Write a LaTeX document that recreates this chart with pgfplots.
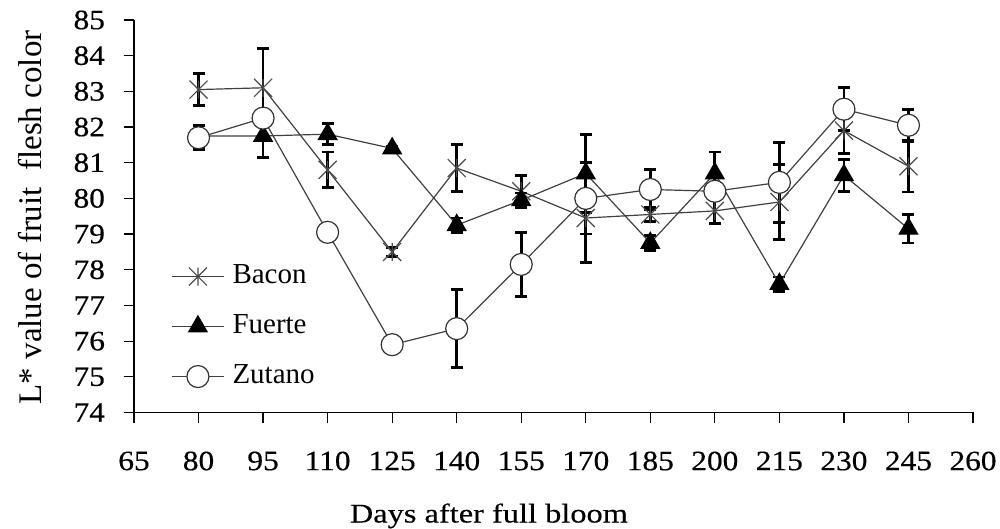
\documentclass[border=0pt]{standalone}
\usepackage{fontspec}
\setmainfont{Liberation Serif}
\newfontfamily\widefont[FakeStretch=1.12, FakeBold=0.4]{Liberation Serif}
\newfontfamily\xlabfont[FakeStretch=1.2, FakeBold=0.3]{Liberation Serif}
\usepackage{pgfplots}
\pgfplotsset{compat=1.18}
\usepackage{pgfplotstable}

% Excel-like star: an X with a vertical stroke
\pgfdeclareplotmark{xstar}{%
  \pgfpathmoveto{\pgfqpoint{-\pgfplotmarksize}{-\pgfplotmarksize}}%
  \pgfpathlineto{\pgfqpoint{\pgfplotmarksize}{\pgfplotmarksize}}%
  \pgfpathmoveto{\pgfqpoint{-\pgfplotmarksize}{\pgfplotmarksize}}%
  \pgfpathlineto{\pgfqpoint{\pgfplotmarksize}{-\pgfplotmarksize}}%
  \pgfpathmoveto{\pgfqpoint{0pt}{-\pgfplotmarksize}}%
  \pgfpathlineto{\pgfqpoint{0pt}{\pgfplotmarksize}}%
  \pgfusepathqstroke}

\pgfplotstableread{
day  B     eB    F     eF    Z     eZ
80   83.05 0.45  81.75 0.30  81.70 0.33
95   83.10 1.10  81.75 0.60  82.25 0.20
110  80.80 0.50  81.80 0.30  79.05 0.10
125  78.50 0.12  81.40 0.05  75.90 0.05
140  80.85 0.65  79.25 0.20  76.35 1.10
155  80.20 0.45  79.95 0.20  78.15 0.90
170  79.45 1.25  80.70 1.10  80.00 1.00
185  79.55 0.20  78.75 0.20  80.25 0.55
200  79.65 0.35  80.70 0.60  80.20 0.20
215  79.90 1.05  77.60 0.20  80.45 1.12
230  81.90 0.65  80.65 0.45  82.50 0.60
245  80.90 0.72  79.15 0.40  82.05 0.45
}\datatable

\pgfplotsset{
  errs/.style={draw=none, mark=none, forget plot,
    error bars/.cd, y dir=both, y explicit,
    error bar style={line width=1.4pt, black},
    error mark options={rotate=90, mark size=3pt, line width=1.4pt, black}},
}

\begin{document}
\begin{tikzpicture}
\begin{axis}[
    scale only axis,
    width=419.5pt, height=196.25pt,
    xmin=65, xmax=260, ymin=74, ymax=85,
    xtick={65,80,...,260}, ytick={74,75,...,85},
    axis x line=bottom, axis y line=left,
    axis line style={-, line width=0.6pt, black},
    tick align=outside, major tick length=5pt,
    tick style={line width=0.6pt, black},
    /pgf/number format/assume math mode=true,
    tick label style={font=\widefont\fontsize{14}{16}\selectfont},
    xticklabel style={yshift=-11pt},
    yticklabel style={xshift=-6pt},
    xlabel={Days after full bloom},
    ylabel={L*\ value of fruit\ \ flesh color},
    every axis x label/.style={at={(axis description cs:0.423,0)}, anchor=base,
        yshift=-55pt, font=\xlabfont\fontsize{13.5}{16}\selectfont},
    every axis y label/.style={at={([xshift=-52pt]axis description cs:0,0.497)},
        anchor=center, rotate=90, font=\fontsize{16.5}{18}\selectfont},
    legend cell align=left,
    legend style={at={(0.044,0.219)}, anchor=west, draw=none, fill=none,
        inner sep=0pt, row sep=10pt, column sep=3pt,
        font=\fontsize{14.5}{16}\selectfont,
        nodes={inner sep=1pt, text height=10pt, text depth=3pt}},
    legend image code/.code={%
        \draw[mark repeat=2, mark phase=2, #1]
        plot coordinates {(0pt,0pt) (13pt,0pt) (26pt,0pt)};},
    every axis plot/.append style={line width=0.6pt},
]
% Bacon
\addplot[errs] table[x=day, y=B, y error=eB] {\datatable};
\addplot[black!75, mark=xstar, mark size=4.5pt, mark options={black!70, line width=0.6pt}]
    table[x=day, y=B] {\datatable};
\addlegendentry{Bacon}
% Fuerte
\addplot[errs] table[x=day, y=F, y error=eF] {\datatable};
\addplot[black!75, mark=triangle*, mark size=5.3pt, mark options={fill=black, draw=black}]
    table[x=day, y=F] {\datatable};
\addlegendentry{Fuerte}
% Zutano
\addplot[errs] table[x=day, y=Z, y error=eZ] {\datatable};
\addplot[black!75, mark=*, mark size=5.5pt, mark options={fill=white, draw=black!80, line width=0.6pt}]
    table[x=day, y=Z] {\datatable};
\addlegendentry{Zutano}
\end{axis}
\pgfresetboundingbox
\path[use as bounding box] (-67pt,-58.25pt) rectangle (433pt,206.25pt);
\end{tikzpicture}
\end{document}
